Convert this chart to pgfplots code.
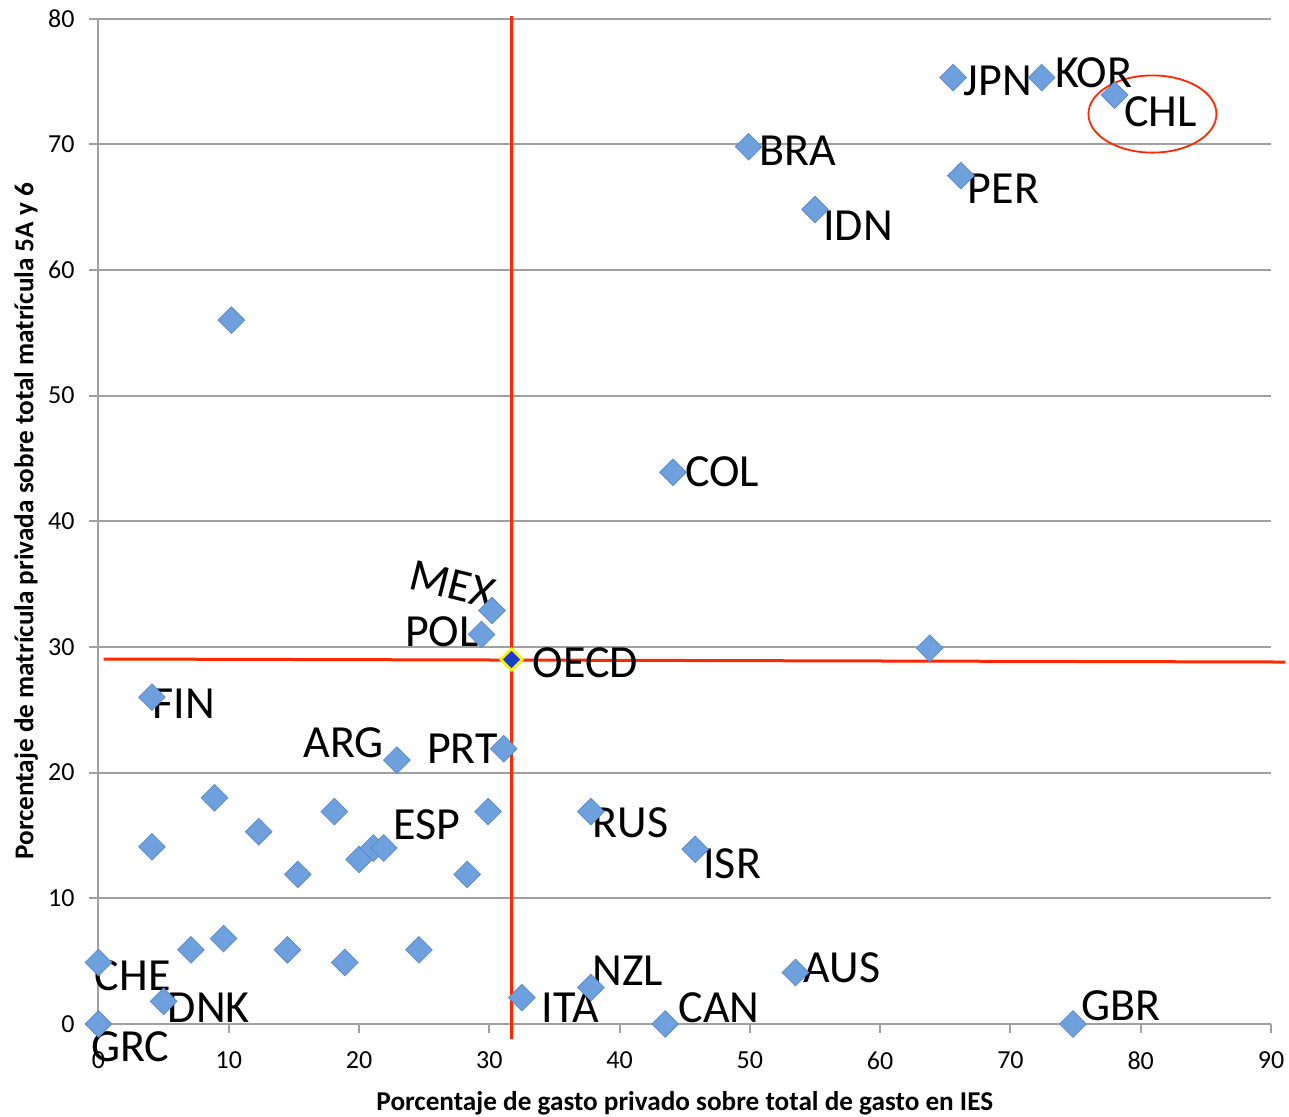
\documentclass[border=0pt]{standalone}
\usepackage{fontspec}
\setmainfont{Carlito}
\usepackage{pgfplots}
\pgfplotsset{compat=1.18}
\definecolor{dblue}{RGB}{111,160,222}
\definecolor{dblueedge}{RGB}{92,140,205}
\definecolor{redl}{RGB}{255,40,0}
\definecolor{axgray}{RGB}{160,160,160}
\definecolor{oecdblue}{RGB}{30,60,200}
\tikzset{labnode/.style={font=\fontsize{23pt}{27pt}\selectfont, inner sep=0pt, anchor=base west}}
\begin{document}
\begin{tikzpicture}
\begin{axis}[
  at={(0,0)}, anchor=south west,
  width=586.25pt, height=502.75pt, scale only axis,
  xmin=0, xmax=90, ymin=0, ymax=80,
  axis x line*=bottom, axis y line*=left,
  axis line style={axgray, line width=1pt, -},
  xtick={0,10,...,90}, ytick={0,10,...,80},
  tick align=outside, major tick length=4.5pt,
  tick style={axgray, line width=1pt},
  ymajorgrids, grid style={axgray, line width=1pt},
  /pgf/number format/assume math mode=true,
  ticklabel style={font=\fontsize{13pt}{15pt}\selectfont},
  xticklabel style={yshift=-6pt},
  yticklabel style={xshift=-4pt},
  xlabel={\textbf{Porcentaje de gasto privado sobre total de gasto en IES}},
  ylabel={\textbf{Porcentaje de matrícula privada sobre total matrícula 5A y 6}},
  xlabel style={font=\fontsize{13.6pt}{16pt}\selectfont, at={([yshift=-43pt]axis description cs:0.5,0)}, anchor=base},
  ylabel style={font=\fontsize{13.6pt}{16pt}\selectfont, at={([xshift=-32.5pt]axis description cs:0,0.5)}, anchor=base},
  clip=false,
]
% red reference lines
\addplot[redl, line width=1.5pt] coordinates {(31.7,-1.2) (31.7,80.2)};
\addplot[redl, line width=1.5pt] coordinates {(0.4,29.04) (91.1,28.8)};
% countries
\addplot[only marks, mark=square*, mark size=4.7pt,
  mark options={rotate=45, fill=dblue, draw=dblueedge, line width=0.4pt}]
coordinates {
(65.6,75.3) (72.4,75.3) (78.0,73.9) (49.9,69.8) (66.2,67.5) (55.0,64.8)
(10.2,56.0) (44.1,43.9) (30.2,32.9) (29.4,31.0) (63.8,29.9)
(4.1,26.0) (22.9,21.0) (31.1,21.9) (8.9,18.0) (18.1,16.9) (29.9,16.9)
(37.8,16.9) (4.1,14.1) (12.3,15.3) (20.0,13.1) (21.1,14.0) (21.9,14.0)
(15.3,11.9) (28.3,11.9) (45.8,13.9)
(0,4.9) (7.1,5.9) (9.6,6.8) (14.5,5.9) (18.9,4.9) (24.6,5.9)
(5.0,1.8) (0,0) (32.5,2.1) (37.8,2.9) (43.5,0) (53.5,4.1) (74.8,0)
};
% OECD
\addplot[only marks, mark=square*, mark size=3.8pt,
  mark options={rotate=45, fill=oecdblue, draw=yellow, line width=1.3pt}]
coordinates {(31.7,29.0)};
% ellipse around CHL
\draw[redl, line width=0.9pt] (axis cs:80.9,72.4) ellipse [x radius=32pt, y radius=19.3pt];
% labels
\node[labnode] at (axis cs:66.4,73.9) {JPN};
\node[labnode] at (axis cs:73.4,74.5) {KOR};
\node[labnode] at (axis cs:78.7,71.4) {CHL};
\node[labnode] at (axis cs:50.7,68.3) {BRA};
\node[labnode] at (axis cs:66.7,65.3) {PER};
\node[labnode] at (axis cs:55.6,62.3) {IDN};
\node[labnode] at (axis cs:45.0,42.8) {COL};
\node[labnode, anchor=center, rotate=-14] at (axis cs:27.2,35.0) {MEX};
\node[labnode] at (axis cs:23.5,30.0) {POL};
\node[labnode] at (axis cs:33.3,27.6) {OECD};
\node[labnode] at (axis cs:4.1,24.3) {FIN};
\node[labnode] at (axis cs:15.7,21.2) {ARG};
\node[labnode] at (axis cs:25.2,20.7) {PRT};
\node[labnode] at (axis cs:22.6,14.7) {ESP};
\node[labnode] at (axis cs:37.9,14.8) {RUS};
\node[labnode] at (axis cs:46.4,11.6) {ISR};
\node[labnode] at (axis cs:-0.3,2.7) {CHE};
\node[labnode] at (axis cs:5.3,0.16) {DNK};
\node[labnode] at (axis cs:-0.6,-3.0) {GRC};
\node[labnode] at (axis cs:34.0,0.16) {ITA};
\node[labnode] at (axis cs:37.9,3.1) {NZL};
\node[labnode] at (axis cs:44.5,0.16) {CAN};
\node[labnode] at (axis cs:54.1,3.3) {AUS};
\node[labnode] at (axis cs:75.4,0.24) {GBR};
\end{axis}
\pgfresetboundingbox
\path (-49.25pt,-46pt) rectangle (595.25pt,512pt);
\end{tikzpicture}
\end{document}
